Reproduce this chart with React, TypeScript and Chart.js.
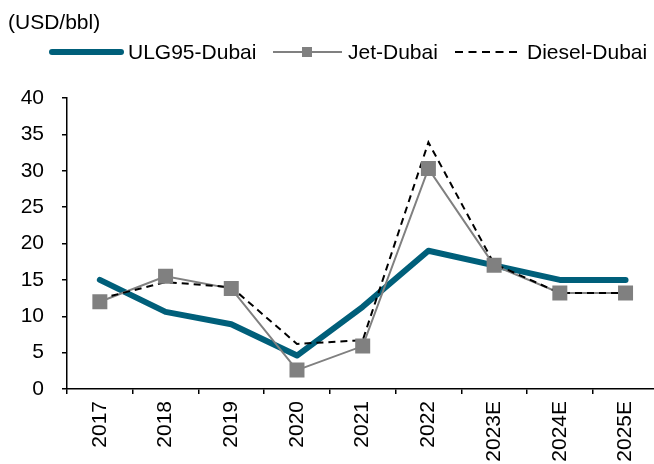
import React, { useEffect, useRef } from "react";
import { Chart, registerables } from "chart.js";

Chart.register(...registerables);

const categories = ["2017", "2018", "2019", "2020", "2021", "2022", "2023E", "2024E", "2025E"];
const ulg95Dubai = [15.0, 10.6, 8.9, 4.6, 11.3, 19.0, 17.0, 15.0, 15.0];
const jetDubai = [12.0, 15.5, 13.8, 2.6, 5.9, 30.3, 17.0, 13.2, 13.2];
const dieselDubai = [12.4, 14.7, 14.0, 6.2, 6.7, 33.9, 17.2, 13.2, 13.2];
const seriesNames = ["ULG95-Dubai", "Jet-Dubai", "Diesel-Dubai"];
const unitLabel = "(USD/bbl)";
const yMin = 0;
const yMax = 40;
const yStep = 5;

const FONT = "'Liberation Sans', Arial, sans-serif";
const TEAL = "#005F7A";
const GRAY = "#808080";

const legendPlugin = {
  id: "customLegend",
  afterDraw(chart: any) {
    const ctx = chart.ctx;
    ctx.save();
    ctx.fillStyle = "#000";
    ctx.font = `21px ${FONT}`;
    ctx.textBaseline = "middle";
    ctx.textAlign = "left";
    ctx.fillText(unitLabel, 8, 23);

    const ly = 52;
    // ULG95
    ctx.strokeStyle = TEAL;
    ctx.lineWidth = 6;
    ctx.lineCap = "round";
    ctx.beginPath();
    ctx.moveTo(52, ly);
    ctx.lineTo(121, ly);
    ctx.stroke();
    ctx.fillText(seriesNames[0], 128, ly + 1);

    // Jet
    ctx.strokeStyle = GRAY;
    ctx.lineWidth = 2;
    ctx.lineCap = "butt";
    ctx.beginPath();
    ctx.moveTo(273, ly);
    ctx.lineTo(342, ly);
    ctx.stroke();
    ctx.fillStyle = GRAY;
    ctx.fillRect(302, ly - 5, 10, 10);
    ctx.fillStyle = "#000";
    ctx.fillText(seriesNames[1], 348, ly + 1);

    // Diesel
    ctx.strokeStyle = "#000";
    ctx.lineWidth = 2;
    ctx.setLineDash([8, 5.5]);
    ctx.beginPath();
    ctx.moveTo(455, ly);
    ctx.lineTo(517, ly);
    ctx.stroke();
    ctx.setLineDash([]);
    ctx.fillText(seriesNames[2], 527, ly + 1);
    ctx.restore();
  },
};

export default function App() {
  const canvasRef = useRef<HTMLCanvasElement | null>(null);

  useEffect(() => {
    if (!canvasRef.current) return;
    const chart = new Chart(canvasRef.current, {
      type: "line",
      data: {
        labels: categories,
        datasets: [
          {
            label: seriesNames[1] + " markers",
            data: jetDubai,
            showLine: false,
            pointStyle: "rect",
            pointRadius: 10.6,
            pointBorderWidth: 0,
            pointBackgroundColor: GRAY,
            pointBorderColor: GRAY,
            order: 0,
          },
          {
            label: seriesNames[2],
            data: dieselDubai,
            borderColor: "#000",
            borderWidth: 2,
            borderDash: [7, 5],
            pointRadius: 0,
            fill: false,
            tension: 0,
            order: 1,
          },
          {
            label: seriesNames[1],
            data: jetDubai,
            borderColor: GRAY,
            borderWidth: 2,
            pointRadius: 0,
            fill: false,
            tension: 0,
            order: 2,
          },
          {
            label: seriesNames[0],
            data: ulg95Dubai,
            borderColor: TEAL,
            borderWidth: 6,
            borderCapStyle: "round",
            borderJoinStyle: "round",
            pointRadius: 0,
            fill: false,
            tension: 0,
            order: 3,
          },
        ],
      },
      options: {
        responsive: false,
        animation: false,
        devicePixelRatio: 1,
        layout: { padding: { top: 98, right: 3, bottom: 0, left: 0 } },
        plugins: {
          legend: { display: false },
          tooltip: { enabled: false },
          title: { display: false },
        },
        scales: {
          x: {
            type: "category",
            offset: true,
            grid: {
              display: true,
              drawOnChartArea: false,
              drawTicks: true,
              tickLength: 5,
              color: "#000",
              lineWidth: 1.5,
              offset: true,
            },
            border: { display: true, color: "#000", width: 1.5 },
            ticks: {
              autoSkip: false,
              minRotation: 90,
              maxRotation: 90,
              padding: 7,
              color: "#000",
              font: { family: FONT, size: 21 },
            },
            afterFit: (scale: any) => {
              scale.height = 75;
            },
          },
          y: {
            min: yMin,
            max: yMax,
            grid: {
              display: true,
              drawOnChartArea: false,
              drawTicks: true,
              tickLength: 5,
              color: "#000",
              lineWidth: 1.5,
            },
            border: { display: true, color: "#000", width: 1.5 },
            ticks: {
              stepSize: yStep,
              padding: 18,
              color: "#000",
              font: { family: FONT, size: 21 },
            },
            afterFit: (scale: any) => {
              scale.width = 67;
            },
          },
        },
      },
      plugins: [legendPlugin],
    });
    return () => chart.destroy();
  }, []);

  return (
    <div
      style={{
        position: "absolute",
        left: 0,
        top: 0,
        width: 654,
        height: 464,
        overflow: "hidden",
        background: "#fff",
      }}
    >
      <canvas ref={canvasRef} width={669} height={464} style={{ display: "block", width: 669, height: 464 }} />
    </div>
  );
}
